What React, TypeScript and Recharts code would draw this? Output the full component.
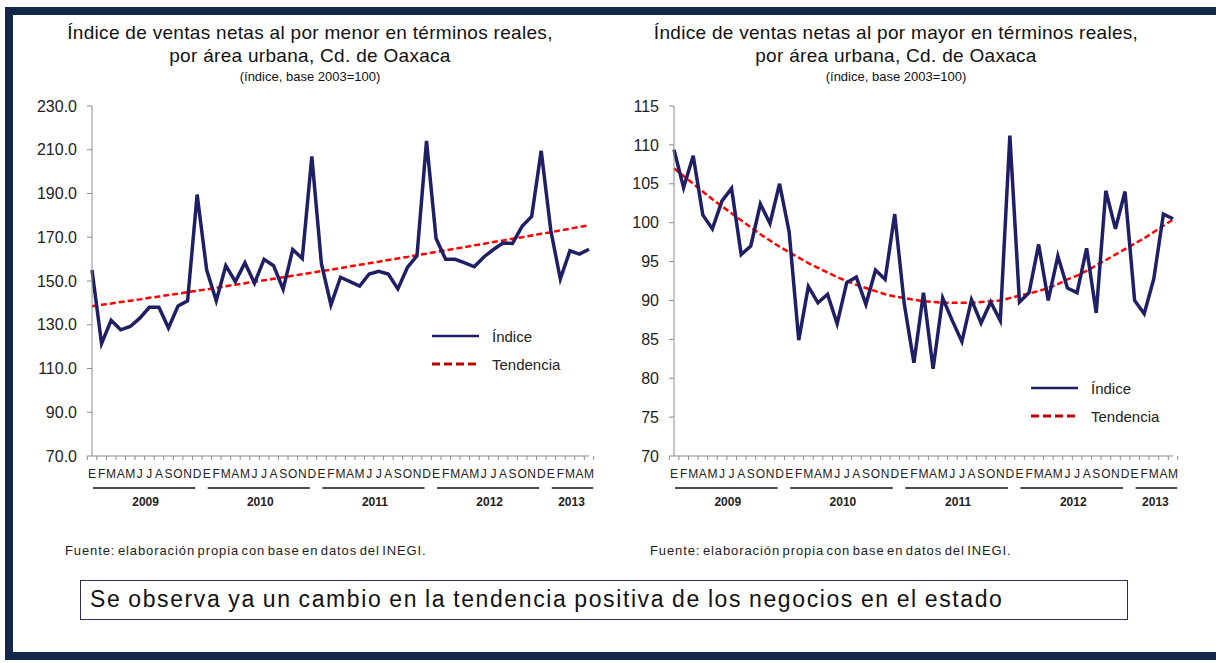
import { LineChart, Line, XAxis, YAxis } from "recharts"

// month initials (Spanish) and years shown under the x axis
const MONTHS = ["E", "F", "M", "A", "M", "J", "J", "A", "S", "O", "N", "D"]
const YEARS = [2009, 2010, 2011, 2012, 2013]
const LAST_YEAR_MONTHS = 5

// retail index (al por menor), ene 2009 - may 2013
const RETAIL_INDEX = [
  155.0, 121.4, 132.0, 127.7, 129.2, 133.0, 138.0, 138.0, 128.5, 138.6, 140.9, 189.5,
  155.0, 141.0, 157.0, 149.7, 158.3, 149.0, 159.9, 157.0, 146.2, 164.4, 160.3, 207.0,
  158.0, 139.1, 151.7, 149.7, 147.7, 153.2, 154.4, 153.2, 146.4, 156.2, 161.5, 214.0,
  169.4, 159.9, 159.9, 158.3, 156.5, 161.0, 164.4, 167.4, 167.2, 175.0, 179.5, 209.5,
  173.2, 150.9, 163.8, 162.3, 164.5,
]
const RETAIL_TREND = [
  138.5, 139.1, 139.7, 140.4, 141.0, 141.6, 142.3, 142.9, 143.6, 144.2, 144.9, 145.5,
  146.2, 146.9, 147.6, 148.3, 149.0, 149.6, 150.3, 151.0, 151.7, 152.4, 153.1, 153.8,
  154.5, 155.2, 155.9, 156.7, 157.4, 158.1, 158.8, 159.6, 160.3, 161.0, 161.8, 162.5,
  163.3, 164.0, 164.8, 165.5, 166.3, 167.0, 167.8, 168.5, 169.3, 170.0, 170.8, 171.6,
  172.3, 173.1, 173.9, 174.7, 175.5,
]

// wholesale index (al por mayor)
const WHOLESALE_INDEX = [
  109.4, 104.5, 108.6, 101.0, 99.2, 102.8, 104.4, 95.9, 97.0, 102.4, 99.9, 105.0,
  98.8, 84.9, 91.8, 89.7, 90.8, 87.0, 92.3, 93.0, 89.5, 93.9, 92.7, 101.1,
  89.5, 82.0, 91.0, 81.2, 90.3, 87.4, 84.7, 90.1, 87.1, 89.8, 87.4, 111.2,
  89.8, 91.0, 97.2, 90.0, 95.7, 91.6, 91.0, 96.7, 88.4, 104.1, 99.2, 104.0,
  90.0, 88.3, 92.8, 101.1, 100.5,
]
const WHOLESALE_TREND = [
  107.0, 106.0, 105.0, 104.0, 103.0, 102.1, 101.2, 100.3, 99.4, 98.5, 97.7, 96.9,
  96.2, 95.5, 94.8, 94.2, 93.6, 93.0, 92.5, 92.0, 91.6, 91.2, 90.8, 90.5,
  90.3, 90.1, 89.9, 89.8, 89.7, 89.7, 89.7, 89.7, 89.8, 89.9, 90.0, 90.3,
  90.6, 90.9, 91.2, 91.6, 92.1, 92.7, 93.2, 93.8, 94.5, 95.2, 95.9, 96.6,
  97.3, 98.0, 98.8, 99.6, 100.4,
]

const RETAIL_TICKS = [70, 90, 110, 130, 150, 170, 190, 210, 230]
const WHOLESALE_TICKS = [70, 75, 80, 85, 90, 95, 100, 105, 110, 115]

const NAVY = "#1F1F66"
const RED = "#FF0000"
const AXIS = "#8C8C8C"
const FONT = "'Liberation Sans', Arial, sans-serif"

const N = RETAIL_INDEX.length

function buildRows(index: number[], trend: number[]) {
  return index.map((v, i) => ({
    key: i,
    month: MONTHS[i % 12],
    year: YEARS[Math.floor(i / 12)],
    indice: v,
    tendencia: trend[i],
  }))
}

const CHART_W = 600
const CHART_H = 520
const PLOT_TOP = 106
const PLOT_BOTTOM = 456

function MonthTick(props: any) {
  const { x, y, payload, step } = props
  const i = payload.index
  const first = i % 12 === 0
  const count = Math.floor(i / 12) === YEARS.length - 1 ? LAST_YEAR_MONTHS : 12
  return (
    <g>
      <line x1={x - step / 2} x2={x - step / 2} y1={y} y2={y + 4} stroke={AXIS} />
      {i === N - 1 && <line x1={x + step / 2} x2={x + step / 2} y1={y} y2={y + 4} stroke={AXIS} />}
      <text x={x} y={y + 22} textAnchor="middle" fontSize={12} fill="#222" fontFamily={FONT}>
        {MONTHS[i % 12]}
      </text>
      {first && (
        <line
          x1={x + 1}
          x2={x + (count - 1) * step + (count < 12 ? 5 : 0)}
          y1={y + 32}
          y2={y + 32}
          stroke="#111"
          strokeWidth={1.3}
        />
      )}
      {first && (
        <text
          x={x + ((count - 1) * step) / 2 + 2}
          y={y + 50}
          textAnchor="middle"
          fontSize={12}
          fontWeight="bold"
          fill="#222"
          fontFamily={FONT}
        >
          {YEARS[Math.floor(i / 12)]}
        </text>
      )}
    </g>
  )
}

function LegendBox({ left, top }: { left: number; top: number }) {
  return (
    <div style={{ position: "absolute", left, top, fontFamily: FONT, fontSize: 15, color: "#222" }}>
      <div style={{ display: "flex", alignItems: "center", height: 28 }}>
        <svg width={47} height={6}>
          <line x1={0} x2={47} y1={3} y2={3} stroke={NAVY} strokeWidth={2.5} />
        </svg>
        <span style={{ marginLeft: 13 }}>Índice</span>
      </div>
      <div style={{ display: "flex", alignItems: "center", height: 28 }}>
        <svg width={47} height={6}>
          <line x1={0} x2={47} y1={3} y2={3} stroke="#C00000" strokeWidth={3} strokeDasharray="8 4" />
        </svg>
        <span style={{ marginLeft: 13 }}>Tendencia</span>
      </div>
    </div>
  )
}

function Panel(props: {
  left: number
  titleCenter: number
  title: string[]
  index: number[]
  trend: number[]
  ticks: number[]
  decimals: number
  yWidth: number
  rightMargin: number
  legendLeft: number
  legendTop: number
  sourceLeft: number
}) {
  const rows = buildRows(props.index, props.trend)
  const plotW = CHART_W - props.yWidth - props.rightMargin
  const step = plotW / N
  const lo = props.ticks[0]
  const hi = props.ticks[props.ticks.length - 1]
  return (
    <>
      <div
        style={{
          position: "absolute",
          left: props.titleCenter - 300,
          width: 600,
          top: 21,
          textAlign: "center",
          fontFamily: FONT,
          color: "#111",
        }}
      >
        <div style={{ fontSize: 19, lineHeight: "23px", letterSpacing: 0.3 }}>{props.title[0]}</div>
        <div style={{ fontSize: 19, lineHeight: "23px", letterSpacing: 0.3 }}>{props.title[1]}</div>
        <div style={{ fontSize: 13, lineHeight: "16px", marginTop: 2 }}>{props.title[2]}</div>
      </div>
      <div style={{ position: "absolute", left: props.left, top: 0 }}>
        <LineChart
          width={CHART_W}
          height={CHART_H}
          data={rows}
          margin={{ top: PLOT_TOP, right: props.rightMargin, bottom: 0, left: 0 }}
        >
          <XAxis
            dataKey="key"
            interval={0}
            height={CHART_H - PLOT_BOTTOM}
            tickLine={false}
            tickSize={0}
            tickMargin={0}
            axisLine={{ stroke: AXIS }}
            tick={(p: any) => <MonthTick {...p} step={step} />}
          />
          <YAxis
            width={props.yWidth}
            domain={[lo, hi]}
            ticks={props.ticks}
            interval={0}
            tickSize={5}
            tickMargin={10}
            axisLine={{ stroke: AXIS }}
            tickLine={{ stroke: AXIS }}
            tick={{ fontSize: 16, fill: "#222", fontFamily: FONT }}
            tickFormatter={(v: number) => v.toFixed(props.decimals)}
          />
          <Line
            type="linear"
            dataKey="tendencia"
            stroke={RED}
            strokeWidth={2.5}
            strokeDasharray="6 3"
            dot={false}
            isAnimationActive={false}
          />
          <Line
            type="linear"
            dataKey="indice"
            stroke={NAVY}
            strokeWidth={3.5}
            dot={false}
            isAnimationActive={false}
          />
        </LineChart>
      </div>
      <LegendBox left={props.legendLeft} top={props.legendTop} />
      <div
        style={{
          position: "absolute",
          left: props.sourceLeft,
          top: 543,
          fontFamily: FONT,
          fontSize: 13,
          letterSpacing: 0.9,
          wordSpacing: -2,
          color: "#222",
          whiteSpace: "nowrap",
        }}
      >
        Fuente: elaboración propia con base en datos del INEGI.
      </div>
    </>
  )
}

export default function App() {
  return (
    <div
      style={{
        position: "absolute",
        left: 0,
        top: 0,
        width: 1216,
        height: 663,
        overflow: "hidden",
        background: "#fff",
      }}
    >
      <div
        style={{
          position: "absolute",
          left: 5,
          top: 7,
          width: 1260,
          height: 653,
          boxSizing: "border-box",
          border: "8px solid #14294A",
        }}
      />
      <Panel
        left={0}
        titleCenter={310}
        title={[
          "Índice de ventas netas al por menor en términos reales,",
          "por área urbana, Cd. de Oaxaca",
          "(índice, base 2003=100)",
        ]}
        index={RETAIL_INDEX}
        trend={RETAIL_TREND}
        ticks={RETAIL_TICKS}
        decimals={1}
        yWidth={92}
        rightMargin={11}
        legendLeft={432}
        legendTop={322}
        sourceLeft={65}
      />
      <Panel
        left={600}
        titleCenter={896}
        title={[
          "Índice de ventas netas al por mayor en términos reales,",
          "por área urbana, Cd. de Oaxaca",
          "(índice, base 2003=100)",
        ]}
        index={WHOLESALE_INDEX}
        trend={WHOLESALE_TREND}
        ticks={WHOLESALE_TICKS}
        decimals={0}
        yWidth={74}
        rightMargin={27}
        legendLeft={1031}
        legendTop={374}
        sourceLeft={650}
      />
      <div
        style={{
          position: "absolute",
          left: 80,
          top: 580,
          width: 1048,
          height: 40,
          boxSizing: "border-box",
          border: "1.5px solid #2C2F5C",
          fontFamily: FONT,
          fontSize: 23,
          letterSpacing: 1.6,
          wordSpacing: -1,
          lineHeight: "37px",
          paddingLeft: 9,
          color: "#111",
          whiteSpace: "nowrap",
        }}
      >
        Se observa ya un cambio en la tendencia positiva de los negocios en el estado
      </div>
    </div>
  )
}
